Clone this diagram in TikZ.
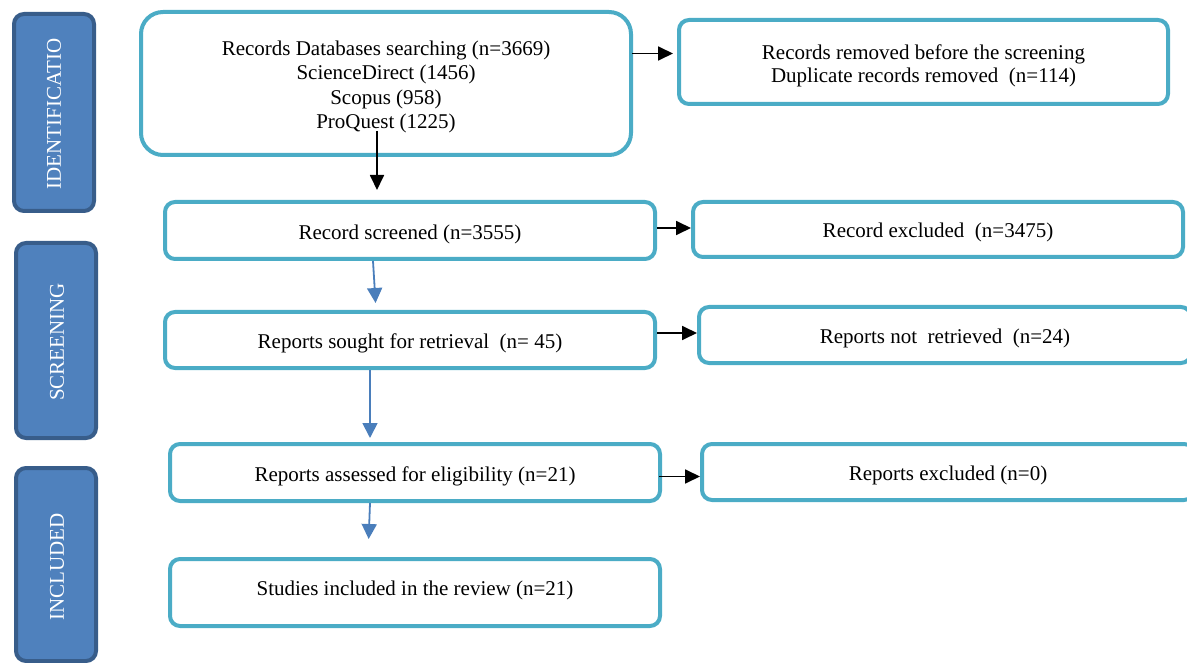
\documentclass[tikz,border=0pt]{standalone}
\usepackage{fontspec}
\setmainfont{Liberation Serif}
\usetikzlibrary{arrows.meta}
\definecolor{teal}{HTML}{4BACC6}
\definecolor{sidefill}{HTML}{4F81BD}
\definecolor{sideedge}{HTML}{385D8A}
\definecolor{bluearr}{HTML}{4A7EBB}
\newcommand\movedtext[2]{\raisebox{#1}[\height][\depth]{\begin{tabular}{@{}c@{}}#2\end{tabular}}}
\tikzset{
  flowbox/.style={draw=teal, line width=4pt, rounded corners=10pt, fill=white,
    align=center, inner sep=0pt, font=\fontsize{21}{24.5}\selectfont},
  sidebox/.style={draw=sideedge, fill=sidefill, line width=4pt, rounded corners=10pt,
    text=white, inner sep=0pt, font=\fontsize{21}{24.5}\selectfont},
  sidelabel/.style={rotate=90, text=white, font=\fontsize{21}{24.5}\selectfont},
  blackarr/.style={line width=1.8pt, -{Triangle[length=15pt,width=14pt]}},
  bluearr/.style={draw=bluearr, line width=1.8pt, -{Triangle[length=15pt,width=15pt]}},
}
\begin{document}
\begin{tikzpicture}[x=1pt,y=-1pt]
\useasboundingbox (0,0) rectangle (1187,663);
\clip (0,0) rectangle (1187,663);
% side bars
\node[sidebox, minimum width=80pt, minimum height=197pt] (sid) at (54,112.5) {};
\node[sidelabel] (sidt) at (54,114) {IDENTIFICATIO};
\node[sidebox, minimum width=80pt, minimum height=195pt] (ssc) at (56,340.5) {};
\node[sidelabel] (ssct) at (57,342) {SCREENING};
\node[sidebox, minimum width=80pt, minimum height=193pt] (sin) at (56,564.5) {};
\node[sidelabel] (sint) at (57,567) {INCLUDED};
% main boxes
\node[flowbox, rounded corners=22pt, minimum width=490pt, minimum height=143pt] (b1) at (386,83.5)
  {\movedtext{-3.5pt}{Records Databases searching (n=3669)\\ScienceDirect (1456)\\Scopus (958)\\ProQuest (1225)}};
\node[flowbox, minimum width=489pt, minimum height=84pt] (b2) at (923.5,62)
  {\fontsize{21}{23}\selectfont\movedtext{-4.5pt}{Records removed before the screening\\Duplicate records removed~ (n=114)}};
\node[flowbox, minimum width=490pt, minimum height=57pt] (b3) at (410,230.5) {\movedtext{-4pt}{Record screened (n=3555)}};
\node[flowbox, minimum width=490pt, minimum height=55pt] (b4) at (938,229.5) {\movedtext{-3.5pt}{Record excluded~ (n=3475)}};
\node[flowbox, minimum width=490pt, minimum height=56pt] (b5) at (410,340) {\movedtext{-4pt}{Reports sought for retrieval~ (n= 45)}};
\node[flowbox, minimum width=492pt, minimum height=56pt] (b6) at (945,335) {\movedtext{-4pt}{Reports not~ retrieved~ (n=24)}};
\node[flowbox, minimum width=490pt, minimum height=57pt] (b7) at (415,472.5) {\movedtext{-4.5pt}{Reports assessed for eligibility (n=21)}};
\node[flowbox, minimum width=492pt, minimum height=56pt] (b8) at (948,472) {\movedtext{-4pt}{Reports excluded (n=0)}};
\node[flowbox, minimum width=490pt, minimum height=67pt] (b9) at (415,592.5) {\movedtext{2pt}{Studies included in the review (n=21)}};
% connectors
\coordinate (s1) at (377,131);
\draw[blackarr, shorten >=10pt] (s1) -- (s1 |- b3.north);
\draw[blackarr, shorten <=-1pt, shorten >=4pt] ([yshift=30pt]b1.east) -- ([yshift=30pt]b1.east -| b2.west);
\draw[blackarr, shorten <=0pt] ([yshift=2.5pt]b3.east) -- ([yshift=2.5pt]b3.east -| b4.west);
\draw[blackarr] ([yshift=7pt]b5.east) -- ([yshift=7pt]b5.east -| b6.west);
\draw[blackarr, shorten <=-3pt] ([yshift=-4pt]b7.east) -- ([yshift=-4pt]b7.east -| b8.west);
\draw[bluearr, shorten >=7pt] ([xshift=-37pt]b3.south) -- ([xshift=-34pt]b5.north);
\draw[bluearr, shorten >=4pt] ([xshift=-40pt]b5.south) -- ([xshift=-45pt]b7.north);
\draw[bluearr, shorten >=18pt] ([xshift=-45pt]b7.south) -- ([xshift=-47pt]b9.north);
\end{tikzpicture}
\end{document}
